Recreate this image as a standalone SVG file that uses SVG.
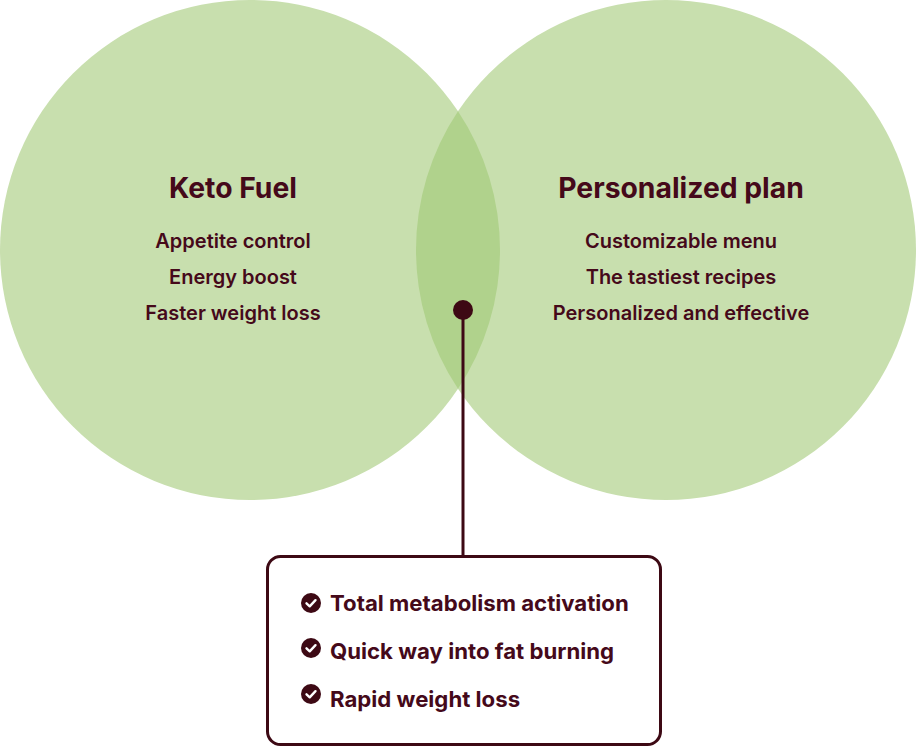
<svg xmlns="http://www.w3.org/2000/svg" width="916" height="747" viewBox="0 0 916 747">
<style>
.c{fill:#c8dfae}
.t{font-family:Inter,"Liberation Sans",sans-serif;fill:#45091a;text-anchor:middle}
.h{font-size:28.3px;font-weight:700}
.s{font-size:20px;font-weight:600}
.b{font-family:Inter,"Liberation Sans",sans-serif;fill:#45091a;font-size:22.2px;font-weight:700}
.ln{stroke:#3d0914;fill:none}
</style>
<defs>
<g id="chk"><circle r="10" fill="#3d0914"/><path d="M-4.5 0.3 L-1.3 3.3 L4.5 -2.8" stroke="#fff" stroke-width="2.4" fill="none" stroke-linecap="round" stroke-linejoin="round"/></g>
</defs>
<g id="left-circle">
<circle class="c" cx="250" cy="250" r="250"/>
<text class="t h" x="233" y="198">Keto Fuel</text>
<text class="t s" x="233" y="248">Appetite control</text>
<text class="t s" x="233" y="284">Energy boost</text>
<text class="t s" x="233" y="320">Faster weight loss</text>
</g>
<g id="right-circle">
<circle class="c" cx="666" cy="250" r="250"/>
<text class="t h" x="681" y="198">Personalized plan</text>
<text class="t s" x="681" y="248">Customizable menu</text>
<text class="t s" x="681" y="284">The tastiest recipes</text>
<text class="t s" x="681" y="320">Personalized and effective</text>
</g>
<g id="overlap">
<path d="M458 111.3 A250 250 0 0 1 458 388.7 A250 250 0 0 1 458 111.3 Z" fill="#b0d28c"/>
</g>
<g id="connectors">
<line class="ln" x1="463" y1="310" x2="463" y2="556" stroke-width="3"/>
<circle cx="463" cy="310" r="10" fill="#3d0914"/>
</g>
<g id="benefits-box">
<rect x="267.5" y="556.5" width="393" height="188" rx="13" fill="#fff" stroke="#3d0914" stroke-width="3"/>
<use href="#chk" x="311" y="603"/>
<use href="#chk" x="311" y="648"/>
<use href="#chk" x="311" y="694"/>
<text class="b" x="330" y="611">Total metabolism activation</text>
<text class="b" x="330" y="659">Quick way into fat burning</text>
<text class="b" x="330" y="707">Rapid weight loss</text>
</g>
</svg>
